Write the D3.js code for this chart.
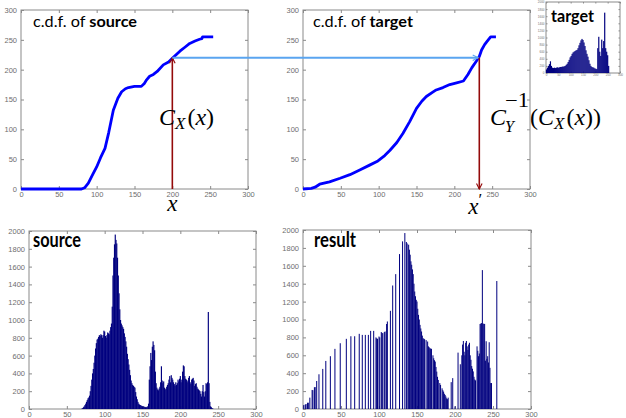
<!DOCTYPE html>
<html>
<head>
<meta charset="utf-8">
<script src="https://cdnjs.cloudflare.com/ajax/libs/d3/7.8.5/d3.min.js"></script>
<style>
body { margin: 0; background: #fff; }
svg { display: block; }
.tick text { fill: #6e6e6e; font-family: "Liberation Sans", Arial, sans-serif; font-size: 7.5px; }
.tick line { stroke: #8a8a8a; }
</style>
</head>
<body>
<div id="chart"></div>
<script>
// tick labels
var xTicks = [0, 50, 100, 150, 200, 250, 300];
var cdfTicks = [0, 50, 100, 150, 200, 250, 300];
var histTicks = [0, 200, 400, 600, 800, 1000, 1200, 1400, 1600, 1800, 2000];

// c.d.f. of source
var srcCdfX = [0, 70, 80, 84, 89, 95, 100, 105, 111, 116, 122, 128, 133, 138, 142, 150, 159, 163, 166, 170, 175, 180, 188, 195, 200, 205, 210, 217, 223, 230, 236, 239, 240, 254];
var srcCdfY = [0, 0, 0, 2, 10, 25, 37, 52, 68, 95, 132, 152, 163, 168, 170, 172, 172, 177, 183, 189, 192, 197, 208, 213, 219, 225, 231, 238, 244, 248, 251, 252, 255, 255];

// c.d.f. of target
var tgtCdfX = [0, 11, 16, 22, 35, 49, 62, 75, 88, 99, 108, 115, 124, 132, 141, 150, 157, 163, 170, 176, 185, 194, 203, 212, 218, 223, 229, 233, 236, 240, 243, 248, 255];
var tgtCdfY = [0, 1, 3, 8, 12, 18, 24, 32, 40, 47, 56, 65, 78, 93, 113, 135, 147, 155, 161, 166, 170, 175, 178, 181, 192, 203, 214, 222, 233, 242, 247, 255, 255];

// mapping shown by the arrows
var pickX = [200];
var pickCdf = [220];
var pickXPrime = [233];

// source histogram, one count per grey level starting at srcStart
var srcStart = 70;
var srcCounts = [
  5, 10, 20, 30, 45, 60, 80, 100, 120, 130,
  150, 200, 260, 330, 400, 450, 520, 600, 680, 740,
  780, 790, 810, 830, 820, 840, 830, 800, 830, 880,
  870, 820, 800, 830, 860, 850, 840, 880, 920, 960,
  1150, 1500, 1700, 1850, 1960, 1900, 1860, 1700, 1500, 1300,
  1120, 1000, 960, 940, 920, 900, 850, 810, 760, 700,
  620, 560, 500, 440, 380, 320, 290, 270, 260, 250,
  240, 190, 140, 110, 80, 60, 50, 45, 40, 35,
  30, 30, 25, 25, 20, 20, 25, 30, 60, 330,
  480, 630, 550, 700, 760, 720, 660, 420, 290, 240,
  220, 210, 230, 250, 300, 480, 320, 290, 310, 240,
  220, 230, 250, 270, 290, 330, 370, 300, 380, 350,
  330, 300, 280, 260, 300, 270, 290, 330, 310, 340,
  370, 300, 330, 420, 490, 480, 370, 340, 330, 300,
  320, 350, 370, 300, 280, 330, 340, 350, 320, 260,
  280, 290, 250, 230, 220, 210, 200, 170, 140, 200,
  270, 190, 140, 200, 290, 280, 300, 1090, 290, 80,
  30, 20, 10, 5, 0, 0
];

// result histogram: only the grey levels that are used
var resBins = [1, 3, 4, 6, 7, 9, 12, 13, 15, 16, 18, 21, 26, 30, 36, 42, 49, 57, 63, 68,
  74, 78, 82, 86, 89, 93, 96, 97, 98, 100, 101, 103, 104, 105, 107, 108, 110, 111, 115, 118,
  122, 127, 131, 134, 136, 137, 139, 140, 141, 142, 143, 144, 145, 146, 147, 148, 149, 150, 151, 152,
  153, 154, 155, 156, 157, 158, 159, 160, 162, 164, 165, 166, 167, 168, 169, 171, 172, 173, 174, 175,
  176, 177, 178, 180, 181, 183, 184, 185, 186, 187, 188, 189, 190, 191, 195, 197, 200, 204, 207, 209,
  210, 211, 212, 213, 214, 215, 216, 217, 218, 219, 220, 221, 222, 223, 224, 225, 226, 227, 229, 230,
  231, 232, 233, 234, 235, 236, 237, 238, 239, 240, 241, 242, 243, 244, 245, 246, 247, 248, 255];
var resCounts = [45, 50, 56, 70, 70, 127, 213, 210, 243, 245, 313, 388, 448, 537, 590, 672, 735, 784, 813, 813,
  840, 828, 828, 828, 873, 873, 800, 790, 784, 810, 800, 860, 850, 847, 860, 866, 950, 978, 1097, 1380,
  1507, 1731, 1873, 1966, 1866, 1850, 1836, 1780, 1724, 1650, 1612, 1560, 1507, 1400, 1313, 1260, 1220, 1201, 1120, 1052,
  1000, 940, 900, 866, 820, 791, 785, 780, 770, 754, 700, 690, 679, 675, 672, 600, 567, 545, 530, 470,
  418, 360, 325, 290, 269, 231, 210, 194, 170, 157, 140, 119, 110, 127, 300, 345, 30, 630, 500, 600,
  720, 760, 640, 600, 740, 760, 700, 660, 720, 740, 600, 550, 480, 450, 420, 360, 330, 320, 700, 650,
  590, 620, 950, 955, 960, 1552, 955, 950, 951, 540, 757, 560, 590, 520, 746, 460, 290, 290, 1430];

// target histogram (inset), bins of 4 grey levels
var tgtBinWidth = 4;
var tgtCounts = [100, 150, 200, 250, 330, 200, 150, 140, 150, 140, 150, 160, 150, 160, 170, 170,
  180, 180, 190, 200, 230, 260, 310, 370, 440, 480, 540, 580, 600, 620, 640, 650,
  700, 780, 850, 920, 960, 930, 860, 760, 640, 540, 460, 360, 260, 200, 170, 160,
  150, 130, 120, 110, 700, 1020, 600, 480, 940, 700, 900, 1700, 700, 600, 500, 200];

var W = 626, H = 418;
var navy = "#00007f";
var darkRed = "#940a0a";
var lightBlue = "#5aa5f0";

var svg = d3.select("#chart")
    .append("svg")
    .attr("width", W)
    .attr("height", H)

var defs = svg.append("defs");
function arrowMarker(id, color) {
    defs.append("marker")
        .attr("id", id)
        .attr("viewBox", "0 0 10 10")
        .attr("refX", 9)
        .attr("refY", 5)
        .attr("markerWidth", 7)
        .attr("markerHeight", 7)
        .attr("markerUnits", "userSpaceOnUse")
        .attr("orient", "auto")
        .append("path")
        .attr("d", "M1,1 L9,5 L1,9")
        .attr("fill", "none")
        .attr("stroke", color)
        .attr("stroke-width", 1.6);
}
arrowMarker("headRed", darkRed);
arrowMarker("headBlue", lightBlue);

// box with inward ticks on every side, like the matlab figures
function drawAxes(x, y, xVals, yVals, small) {
    var g = svg.append("g");
    var tk = small ? 1.5 : 3;
    var fmt = d3.format("d");
    g.append("g").attr("transform", "translate(0," + y.range()[0] + ")")
        .call(d3.axisBottom(x).tickValues(xVals).tickFormat(fmt).tickSizeInner(-tk).tickSizeOuter(0).tickPadding(small ? 1 : 3));
    g.append("g").attr("transform", "translate(" + x.range()[0] + ",0)")
        .call(d3.axisLeft(y).tickValues(yVals).tickFormat(fmt).tickSizeInner(-tk).tickSizeOuter(0).tickPadding(small ? 1.5 : 4));
    g.append("g").attr("transform", "translate(0," + y.range()[1] + ")")
        .call(d3.axisTop(x).tickValues(xVals).tickSizeInner(-tk).tickSizeOuter(0).tickFormat(""));
    g.append("g").attr("transform", "translate(" + x.range()[1] + ",0)")
        .call(d3.axisRight(y).tickValues(yVals).tickSizeInner(-tk).tickSizeOuter(0).tickFormat(""));
    g.selectAll(".domain").remove();
    if (small) g.selectAll(".tick text").style("font-size", "3px");
    g.append("rect")
        .attr("x", x.range()[0])
        .attr("y", y.range()[1])
        .attr("width", x.range()[1] - x.range()[0])
        .attr("height", y.range()[0] - y.range()[1])
        .attr("fill", "none")
        .attr("stroke", "#8a8a8a")
        .attr("stroke-width", 1);
    return g;
}

function cdfLine(x, y, xs, ys) {
    var pts = xs.map(function (d, i) { return [d, ys[i]]; });
    svg.append("path")
        .datum(pts)
        .attr("d", d3.line().x(function (d) { return x(d[0]); }).y(function (d) { return y(d[1]); }))
        .attr("fill", "none")
        .attr("stroke", "#0000ff")
        .attr("stroke-width", 2.8)
        .attr("stroke-linejoin", "round");
}

// ---- top left: c.d.f. of source
var x1 = d3.scaleLinear().domain([0, 300]).range([21, 248]);
var y1 = d3.scaleLinear().domain([0, 300]).range([189, 10]);
drawAxes(x1, y1, xTicks, cdfTicks);
cdfLine(x1, y1, srcCdfX, srcCdfY);

// ---- top right: c.d.f. of target
var x2 = d3.scaleLinear().domain([0, 300]).range([303, 530]);
var y2 = d3.scaleLinear().domain([0, 300]).range([189, 10]);
drawAxes(x2, y2, xTicks, cdfTicks);
cdfLine(x2, y2, tgtCdfX, tgtCdfY);

// ---- bottom left: source histogram
var x3 = d3.scaleLinear().domain([0, 300]).range([29, 256]);
var y3 = d3.scaleLinear().domain([0, 2000]).range([409, 231]);
drawAxes(x3, y3, xTicks, histTicks);
var bw3 = x3(1) - x3(0);
svg.append("g").selectAll("rect")
    .data(srcCounts)
    .enter()
    .append("rect")
    .attr("x", function (d, i) { return x3(srcStart + i) - bw3 / 2 - 0.2; })
    .attr("width", bw3 + 0.4)
    .attr("y", function (d) { return y3(d); })
    .attr("height", function (d) { return y3(0) - y3(d); })
    .attr("fill", navy);

// ---- bottom right: result histogram
var x4 = d3.scaleLinear().domain([0, 300]).range([303, 531]);
var y4 = d3.scaleLinear().domain([0, 2000]).range([409, 230]);
drawAxes(x4, y4, xTicks, histTicks);
svg.append("g").selectAll("rect")
    .data(resCounts)
    .enter()
    .append("rect")
    .attr("x", function (d, i) { return x4(resBins[i]) - 0.5; })
    .attr("width", 1)
    .attr("y", function (d) { return y4(d); })
    .attr("height", function (d) { return y4(0) - y4(d); })
    .attr("fill", navy);

// ---- inset: target histogram
var x5 = d3.scaleLinear().domain([0, 300]).range([546, 620]);
var y5 = d3.scaleLinear().domain([0, 2000]).range([73, 2]);
svg.append("rect").attr("x", 533).attr("y", 0).attr("width", 93).attr("height", 78).attr("fill", "#fff");
drawAxes(x5, y5, xTicks, histTicks, true);
var bw5 = x5(tgtBinWidth) - x5(0);
svg.append("g").selectAll("rect")
    .data(tgtCounts)
    .enter()
    .append("rect")
    .attr("x", function (d, i) { return x5(i * tgtBinWidth) - 0.1; })
    .attr("width", bw5 + 0.2)
    .attr("y", function (d) { return y5(d); })
    .attr("height", function (d) { return y5(0) - y5(d); })
    .attr("fill", navy);

// ---- titles
var sans = "Lato, 'Open Sans', sans-serif";
var t1 = svg.append("text").attr("x", 33).attr("y", 27).attr("font-family", sans).attr("font-size", 16)
    .attr("textLength", 104).attr("lengthAdjust", "spacingAndGlyphs");
t1.append("tspan").text("c.d.f. of ");
t1.append("tspan").attr("font-weight", "bold").text("source");
var t2 = svg.append("text").attr("x", 313).attr("y", 27).attr("font-family", sans).attr("font-size", 16)
    .attr("textLength", 100).attr("lengthAdjust", "spacingAndGlyphs");
t2.append("tspan").text("c.d.f. of ");
t2.append("tspan").attr("font-weight", "bold").text("target");
svg.append("text").attr("x", 551).attr("y", 22).attr("font-family", sans).attr("font-size", 17)
    .attr("font-weight", "bold").attr("textLength", 43).attr("lengthAdjust", "spacingAndGlyphs").text("target");
svg.append("text").attr("x", 33).attr("y", 247).attr("font-family", sans).attr("font-size", 20)
    .attr("font-weight", "bold").attr("textLength", 48).attr("lengthAdjust", "spacingAndGlyphs").text("source");
svg.append("text").attr("x", 314).attr("y", 247).attr("font-family", sans).attr("font-size", 20)
    .attr("font-weight", "bold").attr("textLength", 42).attr("lengthAdjust", "spacingAndGlyphs").text("result");

// ---- arrows
svg.append("line")
    .attr("x1", x1(pickX[0])).attr("y1", y1(0))
    .attr("x2", x1(pickX[0])).attr("y2", y1(pickCdf[0]))
    .attr("stroke", darkRed).attr("stroke-width", 1.6)
    .attr("marker-end", "url(#headRed)");
svg.append("line")
    .attr("x1", x1(pickX[0])).attr("y1", y1(pickCdf[0]))
    .attr("x2", x2(pickXPrime[0]) - 1).attr("y2", y2(pickCdf[0]))
    .attr("stroke", lightBlue).attr("stroke-width", 1.8)
    .attr("marker-end", "url(#headBlue)");
svg.append("line")
    .attr("x1", x2(pickXPrime[0])).attr("y1", y2(pickCdf[0]))
    .attr("x2", x2(pickXPrime[0])).attr("y2", y2(0))
    .attr("stroke", darkRed).attr("stroke-width", 1.6)
    .attr("marker-end", "url(#headRed)");

// ---- math labels
var serif = "Liberation Serif";
var m1 = svg.append("text").attr("x", 159).attr("y", 125).attr("font-family", serif).attr("font-size", 24);
m1.append("tspan").attr("font-style", "italic").text("C");
m1.append("tspan").attr("font-style", "italic").attr("font-size", 17).attr("dy", 4).text("X");
m1.append("tspan").attr("dy", -4).attr("dx", 2).text("(");
m1.append("tspan").attr("font-style", "italic").text("x");
m1.append("tspan").text(")");

// C with the stacked sub/superscript, then the argument
svg.append("text").attr("x", 490).attr("y", 125).attr("font-family", serif).attr("font-size", 24)
    .attr("font-style", "italic").text("C");
svg.append("text").attr("x", 505).attr("y", 107).attr("font-family", serif).attr("font-size", 20)
    .attr("textLength", 24).attr("lengthAdjust", "spacingAndGlyphs").text("\u22121");
svg.append("text").attr("x", 505).attr("y", 132).attr("font-family", serif).attr("font-size", 16)
    .attr("font-style", "italic").text("Y");
var m2 = svg.append("text").attr("x", 530).attr("y", 125).attr("font-family", serif).attr("font-size", 24);
m2.append("tspan").text("(");
m2.append("tspan").attr("font-style", "italic").text("C");
m2.append("tspan").attr("font-style", "italic").attr("font-size", 17).attr("dy", 4).text("X");
m2.append("tspan").attr("dy", -4).attr("dx", 2).text("(");
m2.append("tspan").attr("font-style", "italic").text("x");
m2.append("tspan").text("))");

svg.append("text").attr("x", x1(pickX[0]) - 5).attr("y", 211).attr("font-family", serif)
    .attr("font-size", 23).attr("font-style", "italic").text("x");
var xp = svg.append("text").attr("x", x2(pickXPrime[0]) - 11).attr("y", 214).attr("font-family", serif)
    .attr("font-size", 23).attr("font-style", "italic");
xp.append("tspan").text("x");
xp.append("tspan").attr("font-style", "normal").attr("font-size", 17).attr("dy", -9).text("\u2032");
</script>
</body>
</html>
